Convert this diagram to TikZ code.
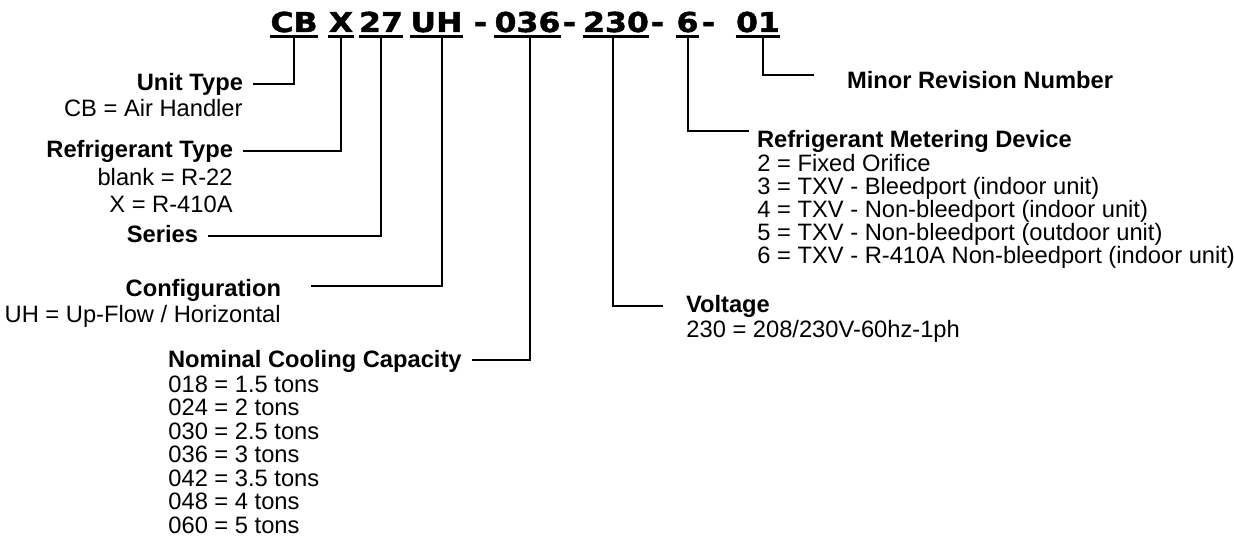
\documentclass[tikz,border=0pt]{standalone}
\usepackage{fontspec}
\setmainfont{Liberation Sans}
\newfontfamily\codefont[FakeStretch=1.15,FakeBold=1.6]{DejaVu Sans Bold}
\usetikzlibrary{positioning}
% stacked lines, baseline of the node on the first line
\newcommand{\rlines}[2]{\vtop{\baselineskip=#1\lineskiplimit=-\maxdimen\halign{\hfil##\cr#2\crcr}}}
\newcommand{\llines}[2]{\vtop{\baselineskip=#1\lineskiplimit=-\maxdimen\halign{##\hfil\cr#2\crcr}}}
\tikzset{
  codepart/.style={font=\codefont\fontsize{13.7}{16}\selectfont, inner sep=0pt, text depth=0pt, anchor=base},
  uline/.style={line width=1.3pt},
  conn/.style={line width=1pt},
  head/.style={font=\fontsize{11.85}{14}\selectfont\bfseries, inner sep=0pt, outer xsep=5pt, text height=8.5pt, text depth=1.5pt},
  desc/.style={font=\fontsize{11.85}{14}\selectfont, inner sep=0pt},
}
\begin{document}
\begin{tikzpicture}[x=0.5pt, y=-0.5pt]
\useasboundingbox (0,0) rectangle (1234,539);
% model number, one underlined part each
\foreach \nm/\txt/\xx in {pcb/CB/294, prt/X/341, pser/27/381, puh/UH/436.5, pcap/036/527.5, pvolt/230/616, pdev/6/687.5, prev/01/758} {
  \node[codepart] (\nm) at (\xx,32) {\txt};
  \draw[uline] ([yshift=-2pt]\nm.south west) -- ([yshift=-2pt]\nm.south east);
}
\foreach \i/\xx in {1/480.5, 2/569.5, 3/657.5, 4/708.5} \node[codepart] (dash\i) at (\xx,32) {-};
% left side
\node[head, anchor=base east] (unit) at (253,91) {Unit Type};
\node[desc, anchor=base east] (unitval) at (243,117) {\rlines{13pt}{CB = Air Handler}};
\node[head, anchor=base east] (reftype) at (243,158) {Refrigerant Type};
\node[desc, anchor=base east] (refval) at (233,186) {\rlines{13.5pt}{blank = R-22\cr X = R-410A}};
\node[head, anchor=base east] (series) at (208,243) {Series};
\node[head, anchor=base east] (config) at (291,297) {Configuration};
\node[desc, anchor=base east] (configval) at (281,322) {\rlines{13pt}{UH = Up-Flow / Horizontal}};
\node[head, anchor=base west] (nominal) at (158,367) {Nominal Cooling Capacity};
\node[desc, anchor=base west] (nomval) at (168,392) {\llines{11.75pt}{018 = 1.5 tons\cr 024 = 2 tons\cr 030 = 2.5 tons\cr 036 = 3 tons\cr 042 = 3.5 tons\cr 048 = 4 tons\cr 060 = 5 tons}};
% right side
\node[head, anchor=base west] (minor) at (837,89) {Minor Revision Number};
\node[head, anchor=base west] (meter) at (747,148) {Refrigerant Metering Device};
\node[desc, anchor=base west] (meterval) at (757,172) {\llines{11.5pt}{2 = Fixed Orifice\cr 3 = TXV - Bleedport (indoor unit)\cr 4 = TXV - Non-bleedport (indoor unit)\cr 5 = TXV - Non-bleedport (outdoor unit)\cr 6 = TXV - R-410A Non-bleedport (indoor unit)}};
\node[head, anchor=base west] (volt) at (676,313) {Voltage};
\node[desc, anchor=base west] (voltval) at (686,337) {\llines{12pt}{230 = 208/230V-60hz-1ph}};
% connectors
\draw[conn] ([yshift=-2pt]pcb.south) |- (unit.east);
\draw[conn] ([yshift=-2pt]prt.south) |- (reftype.east);
\draw[conn] ([yshift=-2pt]pser.south) |- (series.east);
\draw[conn] ([xshift=2.75pt,yshift=-2pt]puh.south) |- ([xshift=10pt,yshift=2pt]config.east);
\draw[conn] ([xshift=1.25pt,yshift=-2pt]pcap.south) |- (nominal.east);
\draw[conn] ([xshift=-1.5pt,yshift=-2pt]pvolt.south) |- ([xshift=-6.5pt]volt.west);
\draw[conn] ([yshift=-2pt]pdev.south) |- ([xshift=1pt]meter.north west);
\draw[conn] ([xshift=2.5pt,yshift=-2pt]prev.south) |- ([xshift=-11.5pt,yshift=-1.5pt]minor.north west);
\end{tikzpicture}
\end{document}
